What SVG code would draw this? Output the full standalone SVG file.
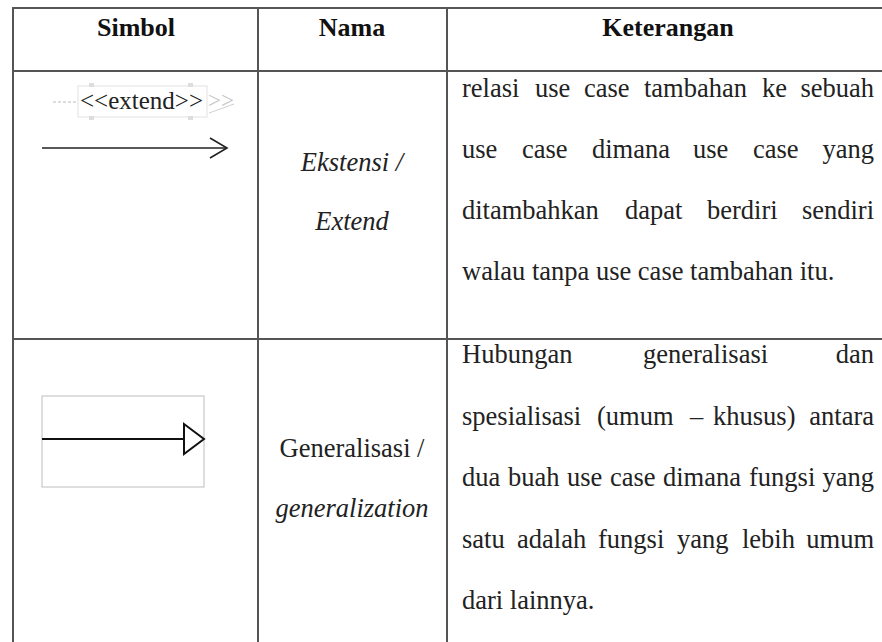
<svg xmlns="http://www.w3.org/2000/svg" width="882" height="642" viewBox="0 0 882 642">
<style>
.grid{stroke:#555;stroke-width:2;fill:none}
.hd{font-family:"Liberation Serif","Times New Roman",serif;font-size:26px;font-weight:bold;fill:#111;text-anchor:middle}
.tx{font-family:"Liberation Serif","Times New Roman",serif;font-size:26.5px;fill:#222}
.mid{text-anchor:middle}
.it{font-style:italic}
.e{text-anchor:end}
.sym{stroke:#222;stroke-width:1.6;fill:none}
</style>
<rect width="882" height="642" fill="#fff"/>
<g id="table">
<line class="grid" x1="13" y1="8" x2="882" y2="8"/>
<line class="grid" x1="13" y1="71" x2="882" y2="71"/>
<line class="grid" x1="13" y1="339" x2="882" y2="339"/>
<line class="grid" x1="13" y1="7" x2="13" y2="642"/>
<line class="grid" x1="258" y1="7" x2="258" y2="642"/>
<line class="grid" x1="447" y1="7" x2="447" y2="642"/>
</g>
<g id="header">
<text class="hd" x="136" y="36">Simbol</text>
<text class="hd" x="352" y="36">Nama</text>
<text class="hd" x="668" y="36">Keterangan</text>
</g>
<g id="extend-symbol">
<line x1="53" y1="102" x2="78" y2="102" stroke="#bbb" stroke-width="1" stroke-dasharray="3,2"/>
<rect x="78" y="86" width="129" height="31" fill="#fff" stroke="#e2e2e2" stroke-width="1"/>
<rect x="89" y="83" width="5" height="4" fill="#ddd"/>
<rect x="188" y="83" width="5" height="4" fill="#ddd"/>
<rect x="89" y="116" width="5" height="4" fill="#ddd"/>
<rect x="188" y="116" width="5" height="4" fill="#ddd"/>
<text class="tx" x="80" y="109" style="font-size:25px">&lt;&lt;extend&gt;&gt;</text>
<text x="208" y="108" font-family="Liberation Serif,serif" font-size="23" fill="#c4c4c4">&gt;&gt;</text>
<line x1="209" y1="113" x2="234" y2="104" stroke="#d0d0d0" stroke-width="1"/>
</g>
<g id="connectors">
<line class="sym" x1="42" y1="148" x2="227" y2="148"/>
<polyline class="sym" points="210,138 227,148 210,158"/>
<rect x="42" y="396" width="162" height="91" fill="none" stroke="#bdbdbd" stroke-width="1"/>
<line x1="42" y1="439" x2="184" y2="439" stroke="#111" stroke-width="2"/>
<polygon points="184,424 204,439 184,454" fill="#fff" stroke="#111" stroke-width="2"/>
</g>
<g id="row1-name">
<text class="tx mid it" x="352" y="171">Ekstensi /</text>
<text class="tx mid it" x="352" y="230">Extend</text>
</g>
<g id="row1-desc">
<text class="tx" y="97"><tspan x="462">relasi</tspan><tspan x="535">use</tspan><tspan x="584">case</tspan><tspan x="644">tambahan</tspan><tspan x="762">ke</tspan><tspan class="e" x="874">sebuah</tspan></text>
<text class="tx" y="158"><tspan x="462">use</tspan><tspan x="522">case</tspan><tspan x="592">dimana</tspan><tspan x="693">use</tspan><tspan x="753">case</tspan><tspan class="e" x="874">yang</tspan></text>
<text class="tx" y="219"><tspan x="462">ditambahkan</tspan><tspan x="625">dapat</tspan><tspan x="707">berdiri</tspan><tspan class="e" x="874">sendiri</tspan></text>
<text class="tx" x="462" y="280">walau tanpa use case tambahan itu.</text>
</g>
<g id="row2-name">
<text class="tx mid" x="352" y="457">Generalisasi /</text>
<text class="tx mid it" x="352" y="517">generalization</text>
</g>
<g id="row2-desc">
<text class="tx" y="363"><tspan x="462">Hubungan</tspan><tspan x="643">generalisasi</tspan><tspan class="e" x="874">dan</tspan></text>
<text class="tx" y="425"><tspan x="462">spesialisasi</tspan><tspan x="597">(umum</tspan><tspan x="690">–</tspan><tspan x="713">khusus)</tspan><tspan class="e" x="874">antara</tspan></text>
<text class="tx" y="486"><tspan x="462">dua</tspan><tspan x="508">buah</tspan><tspan x="567">use</tspan><tspan x="610">case</tspan><tspan x="663">dimana</tspan><tspan x="749">fungsi</tspan><tspan class="e" x="874">yang</tspan></text>
<text class="tx" y="548"><tspan x="462">satu</tspan><tspan x="517">adalah</tspan><tspan x="598">fungsi</tspan><tspan x="677">yang</tspan><tspan x="742">lebih</tspan><tspan class="e" x="874">umum</tspan></text>
<text class="tx" x="462" y="609">dari lainnya.</text>
</g>
</svg>
